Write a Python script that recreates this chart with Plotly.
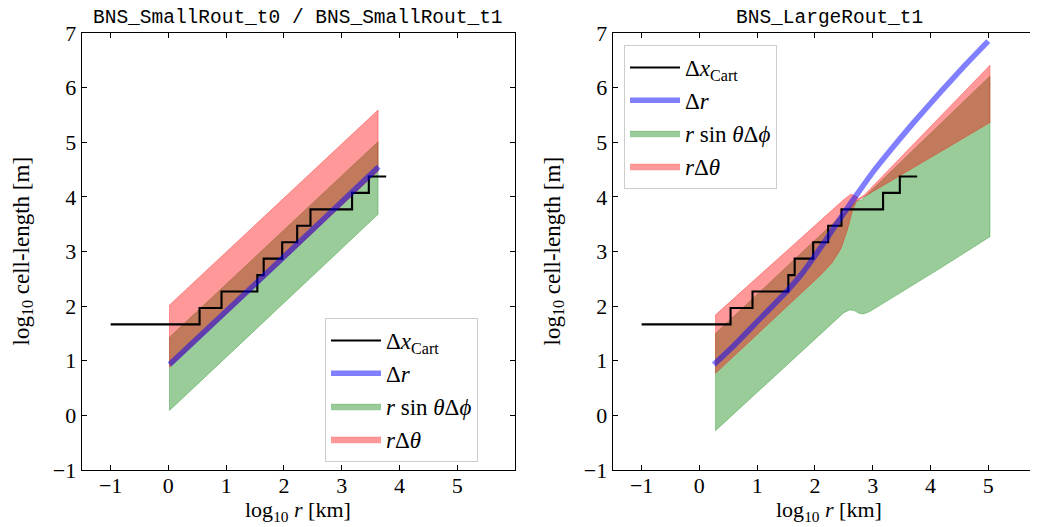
import plotly.graph_objects as go

# ---------------- data (log10 values) ----------------
# Cartesian grid spacing (step function), shared by both panels
cart_x = [-1.0, 0.54, 0.92, 1.54, 1.65, 1.97, 2.23, 2.46, 3.18, 3.47, 3.77]
cart_y = [1.665, 1.966, 2.267, 2.568, 2.869, 3.170, 3.471, 3.772, 4.073, 4.374, 4.374]

# Left panel: BNS_SmallRout_t0 / t1
L_dr_x = [0.02, 1.54, 3.64]
L_dr_y = [0.93, 2.44, 4.55]
L_band_x = [0.02, 3.63]
L_phi_lo = [0.09, 3.68]
L_phi_hi = [1.43, 5.01]
L_th_lo = [0.88, 4.47]
L_th_hi = [2.02, 5.59]

# Right panel: BNS_LargeRout_t1
R_dr_x = [0.25, 0.6, 1.06, 1.52, 1.75, 1.98, 2.2, 2.44, 2.73, 3.0, 3.31, 3.7, 4.2, 4.6, 5.0]
R_dr_y = [0.93, 1.28, 1.78, 2.28, 2.56, 2.89, 3.23, 3.61, 4.05, 4.45, 4.86, 5.35, 5.95, 6.41, 6.85]

R_phi_lo_x = [0.28, 2.4, 2.5, 2.6, 2.68, 2.76, 2.84, 2.95, 4.12, 5.03]
R_phi_lo_y = [-0.28, 1.80, 1.88, 1.93, 1.92, 1.87, 1.855, 1.90, 2.66, 3.27]
R_phi_hi_x = [0.28, 2.6, 2.72, 2.8, 5.03]
R_phi_hi_y = [1.50, 3.80, 3.93, 3.94, 6.21]

R_th_lo_x = [0.28, 1.0, 1.6, 2.1, 2.3, 2.45, 2.56, 2.65, 2.72, 2.8, 3.5, 4.3, 5.03]
R_th_lo_y = [0.77, 1.48, 2.07, 2.57, 2.80, 3.05, 3.39, 3.75, 3.92, 3.97, 4.41, 4.90, 5.36]
R_th_hi_x = [0.28, 2.5, 2.62, 2.7, 2.76, 2.85, 5.03]
R_th_hi_y = [1.84, 3.95, 4.05, 4.02, 3.97, 4.03, 6.41]

titles = ["BNS_SmallRout_t0 / BNS_SmallRout_t1", "BNS_LargeRout_t1"]
names = ["Δ<i>x</i><sub>Cart</sub>", "Δ<i>r</i>",
         "<i>r</i> sin <i>θ</i>Δ<i>ϕ</i>", "<i>r</i>Δ<i>θ</i>"]

GREEN = "rgba(0,128,0,0.4)"
RED = "rgba(255,0,0,0.4)"
BLUE = "rgba(0,0,255,0.5)"
SERIF = "Liberation Serif"

# The page body has an 8px margin: the figure is drawn at screen (8, 8).
OFF = 8
W, H = 1038 - OFF, 527 - OFF


def fx(px):
    return (px - OFF) / W


def fy(py):
    return 1 - (py - OFF) / H


fig = go.Figure()


def band(xlo, ylo, xhi, yhi, color, name, xa, ya, leg, rank):
    xs = list(xlo) + list(xhi)[::-1] + [xlo[0]]
    ys = list(ylo) + list(yhi)[::-1] + [ylo[0]]
    fig.add_trace(go.Scatter(x=xs, y=ys, fill="toself", fillcolor=color,
                             mode="lines", line=dict(color=color, width=0.8),
                             name=name, xaxis=xa, yaxis=ya, legend=leg,
                             legendrank=rank, hoverinfo="skip"))


panels = [
    dict(xa="x", ya="y", leg="legend",
         phi=(L_band_x, L_phi_lo, L_band_x, L_phi_hi),
         th=(L_band_x, L_th_lo, L_band_x, L_th_hi),
         dr=(L_dr_x, L_dr_y)),
    dict(xa="x2", ya="y2", leg="legend2",
         phi=(R_phi_lo_x, R_phi_lo_y, R_phi_hi_x, R_phi_hi_y),
         th=(R_th_lo_x, R_th_lo_y, R_th_hi_x, R_th_hi_y),
         dr=(R_dr_x, R_dr_y)),
]

for p in panels:
    band(*p["phi"], GREEN, names[2], p["xa"], p["ya"], p["leg"], 3)
    band(*p["th"], RED, names[3], p["xa"], p["ya"], p["leg"], 4)
    fig.add_trace(go.Scatter(x=cart_x, y=cart_y, mode="lines",
                             line=dict(color="black", width=2.1, shape="hv"),
                             name=names[0], xaxis=p["xa"], yaxis=p["ya"],
                             legend=p["leg"], legendrank=1))
    fig.add_trace(go.Scatter(x=p["dr"][0], y=p["dr"][1], mode="lines",
                             line=dict(color=BLUE, width=5.5, shape="spline",
                                       smoothing=0.5),
                             name=names[1], xaxis=p["xa"], yaxis=p["ya"],
                             legend=p["leg"], legendrank=2))

# geometry in screen pixels
L0, L1 = 81.7, 515.0
R0, R1 = 612.7, 1038.0
T, B = 33.0, 470.0
ppu = (L1 - L0) / 7.5
ydom = [fy(B), fy(T)]

axcommon = dict(showgrid=False, zeroline=False, ticks="inside", ticklen=5,
                tickwidth=1.2, tickcolor="black", showline=True,
                linecolor="black", linewidth=1.3, automargin=False,
                tickfont=dict(family=SERIF, size=22, color="black"))

legcommon = dict(xanchor="left", yanchor="top", bgcolor="white",
                 bordercolor="#cccccc", borderwidth=1,
                 font=dict(family=SERIF, size=23, color="black"),
                 itemwidth=50)

fig.update_layout(
    width=W, height=H, margin=dict(l=0, r=0, t=0, b=0, autoexpand=False),
    plot_bgcolor="white", paper_bgcolor="white",
    xaxis=dict(domain=[fx(L0), fx(L1)], range=[-1.5, 6.0], anchor="y",
               tickvals=[-1, 0, 1, 2, 3, 4, 5], mirror="ticks",
               ticklabelstandoff=-5, **axcommon),
    yaxis=dict(domain=ydom, range=[-1, 7], anchor="x",
               tickvals=list(range(-1, 8)), mirror="ticks", **axcommon),
    xaxis2=dict(domain=[fx(R0), 1.0], range=[-1.5, -1.5 + (R1 - R0) / ppu],
                anchor="y2", tickvals=[-1, 0, 1, 2, 3, 4, 5], mirror="ticks",
                ticklabelstandoff=-5, **axcommon),
    yaxis2=dict(domain=ydom, range=[-1, 7], anchor="x2",
                tickvals=list(range(-1, 8)), mirror=False, **axcommon),
    legend=dict(x=fx(325), y=fy(318), **legcommon),
    legend2=dict(x=fx(624), y=fy(45), **legcommon),
    showlegend=True,
)

ann = []
ann.append(dict(text=titles[0], x=fx((L0 + L1) / 2), y=fy(18),
                font=dict(family="Liberation Mono", size=19.5, color="black")))
ann.append(dict(text=titles[1], x=fx(R0 + (L1 - L0) / 2), y=fy(18),
                font=dict(family="Liberation Mono", size=19.5, color="black")))
for cx in [(L0 + L1) / 2, R0 + (L1 - L0) / 2]:
    ann.append(dict(text="log<sub>10</sub> <i>r</i> [km]", x=fx(cx),
                    y=fy(511),
                    font=dict(family=SERIF, size=22, color="black")))
for cx in [23, 554]:
    ann.append(dict(text="log<sub>10</sub> cell-length [m]", x=fx(cx),
                    y=fy((T + B) / 2), textangle=-90,
                    font=dict(family=SERIF, size=23, color="black")))
for a in ann:
    a.update(xref="paper", yref="paper", showarrow=False,
             xanchor="center", yanchor="middle")
fig.update_layout(annotations=ann)

fig.write_html("out.html")
